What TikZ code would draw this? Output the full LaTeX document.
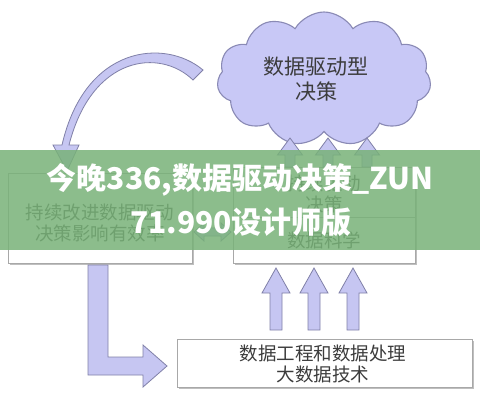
\documentclass[tikz,border=0pt]{standalone}
\usepackage{fontspec}
\newfontfamily\cjk{Noto Sans CJK SC}
\usetikzlibrary{shapes.symbols,shadows}
\definecolor{arrfill}{RGB}{198,198,242}
\definecolor{arrdraw}{RGB}{128,128,168}
\definecolor{cloudfill}{RGB}{200,200,246}
\definecolor{clouddraw}{RGB}{138,138,181}
\definecolor{boxdraw}{RGB}{168,168,168}
\definecolor{txt}{RGB}{60,60,60}
\definecolor{banner}{RGB}{120,178,120}
\tikzset{
  blockarrow/.style={fill=arrfill, draw=arrdraw, line width=0.8pt, line join=miter},
  boxstyle/.style={draw=boxdraw, line width=0.9pt, fill=white, inner sep=0pt,
    drop shadow={shadow xshift=1.5pt, shadow yshift=-1.5pt, opacity=0.25, fill=black}},
  lbl/.style={font=\cjk\fontsize{18.5}{21.5}\selectfont, text=txt, align=center, inner sep=0pt},
  cloudlbl/.style={font=\cjk\fontsize{21}{25.5}\selectfont, text=txt, align=center, inner sep=0pt},
  bannertxt/.style={font=\cjk\bfseries\fontsize{30}{36}\selectfont, text=white, inner sep=0pt},
}
% #1 x, #2 tip y, #3 head base y, #4 bottom y, #5 head half width, #6 shaft half width
\newcommand\blockup[6]{%
  \filldraw[blockarrow] (#1,#2) -- (#1+#5,#3) -- (#1+#6,#3) -- (#1+#6,#4)
    -- (#1-#6,#4) -- (#1-#6,#3) -- (#1-#5,#3) -- cycle;}
\begin{document}
\begin{tikzpicture}[x=1pt,y=-1pt]
\useasboundingbox (0,0) rectangle (480,400);
\fill[white] (0,0) rectangle (480,400);

% cloud
\node[cloud, cloud puffs=11, cloud puff arc=120, aspect=1.55, draw=clouddraw,
  fill=cloudfill, line width=1.1pt, minimum width=214pt, minimum height=134pt,
  inner sep=0pt] (cloud) at (324,79) {};
\node[cloudlbl] (cloudtxt) at (316,79) {数据驱动型\\决策};

% curved arrow
\filldraw[blockarrow] (203,70) .. controls (165,38) and (85,45) .. (62,145)
  -- (53,145) -- (67,171) -- (79,145) -- (69,145)
  .. controls (92,55) and (160,48) .. (193,80) -- cycle;

% boxes
\node[boxstyle, minimum width=184pt, minimum height=90pt] (left) at (100,218) {};
\node[lbl] (lefttxt) at (100,223) {持续改进数据驱动\\决策影响有效率};

\node[boxstyle, minimum width=182pt, minimum height=96pt] (mid) at (324,215) {};
\coordinate (divl) at (233,217);
\coordinate (divr) at (415,217);
\draw[boxdraw, line width=0.9pt] (divl) -- (divr);
\node[lbl] (midtop) at (324,194) {持续驱动\\决策};
\node[lbl] (midbot) at (324,240) {数据科学};

\node[boxstyle, minimum width=295pt, minimum height=48pt] (bottom) at (324.5,363) {};
\node[lbl] (bottomtxt) at (323,364) {数据工程和数据处理\\大数据技术};

% up arrows to cloud
\blockup{290}{138}{155}{167}{12.5}{5}
\blockup{328}{138}{155}{167}{12.5}{5}
\blockup{367}{138}{155}{167}{12.5}{5}

% up arrows to middle box
\blockup{276}{268}{293}{330}{14}{6}
\blockup{314}{268}{293}{330}{14}{6}
\blockup{353}{268}{293}{330}{14}{6}

% double arrow between left and middle box
\filldraw[blockarrow] (194,232) -- (204,223) -- (204,228) -- (221,228) -- (221,223)
  -- (231,232) -- (221,241) -- (221,236) -- (204,236) -- (204,241) -- cycle;

% L arrow
\filldraw[blockarrow] (88,265) -- (108,265) -- (108,357) -- (143,357) -- (143,345)
  -- (167,366) -- (143,387) -- (143,375) -- (88,375) -- cycle;

% banner
\fill[banner, opacity=0.85] (0,150) rectangle (480,250);
\node[bannertxt] (b1) at (240,180) {今晚336,数据驱动决策\_ZUN};
\node[bannertxt] (b2) at (241,222) {71.990设计师版};
\end{tikzpicture}
\end{document}
